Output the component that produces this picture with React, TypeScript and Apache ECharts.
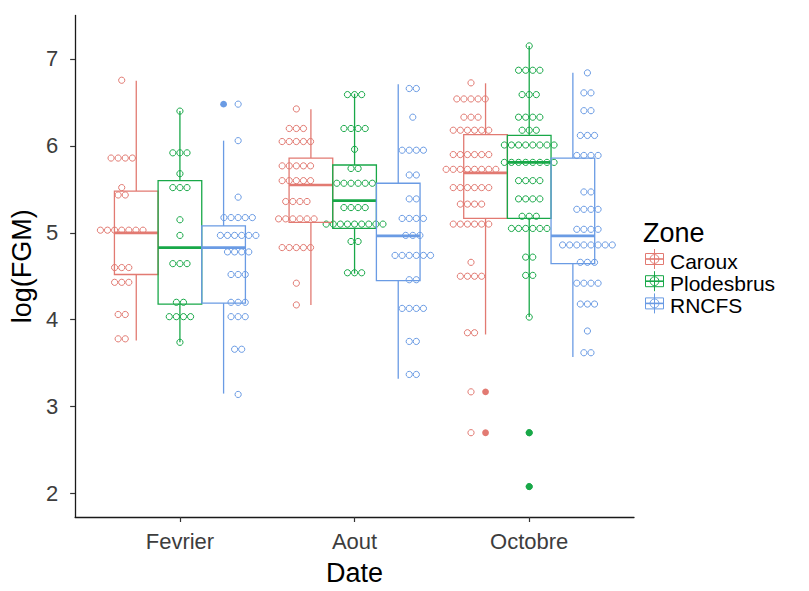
import React, { useEffect, useRef } from 'react';
import * as echarts from 'echarts';

// ---------- data ----------
const dates = ['Fevrier', 'Aout', 'Octobre'];
const zones = ['Caroux', 'Plodesbrus', 'RNCFS'];
const yTicks = [2, 3, 4, 5, 6, 7];

// box stats per date: [lower whisker, q1, median, q3, upper whisker]
const carouxBox = [
  [3.76, 4.52, 5.0, 5.48, 6.75],
  [4.17, 5.12, 5.55, 5.86, 6.42],
  [3.83, 5.165, 5.69, 6.13, 6.72],
];
const plodesbrusBox = [
  [3.74, 4.18, 4.83, 5.6, 6.4],
  [4.53, 5.05, 5.37, 5.78, 6.6],
  [4.03, 5.165, 5.81, 6.12, 7.15],
];
const rncfsBox = [
  [3.15, 4.19, 4.83, 5.08, 6.06],
  [3.32, 4.45, 4.965, 5.57, 6.71],
  [3.57, 4.645, 4.965, 5.86, 6.84],
];

// boxplot outliers per date
const carouxOutliers = [[], [], [3.17, 2.7]];
const plodesbrusOutliers = [[], [], [2.7, 2.08]];
const rncfsOutliers = [[6.48], [], []];

// dotplot bins per date: [bin centre, count]
const carouxDots = [
  [[6.755, 1], [5.86, 4], [5.52, 1], [5.435, 2], [5.03, 7], [4.6, 3], [4.43, 3], [4.06, 2], [3.78, 2]],
  [[6.425, 1], [6.2, 3], [6.05, 5], [5.77, 5], [5.6, 5], [5.36, 4], [5.16, 6], [4.83, 5], [4.42, 1], [4.17, 1]],
  [[6.725, 1], [6.54, 5], [6.33, 3], [6.18, 6], [5.9, 6], [5.73, 8], [5.52, 6], [5.33, 4], [5.1, 6], [4.66, 1], [4.5, 4], [3.85, 2], [3.17, 1], [2.7, 1]],
];
const plodesbrusDots = [
  [[6.4, 1], [5.92, 3], [5.68, 1], [5.52, 3], [5.15, 1], [4.97, 1], [4.645, 3], [4.2, 2], [4.035, 4], [3.74, 1]],
  [[6.59, 3], [6.2, 4], [5.96, 1], [5.74, 2], [5.57, 6], [5.29, 4], [5.1, 9], [4.9, 2], [4.54, 3]],
  [[7.15, 1], [6.87, 4], [6.59, 3], [6.33, 4], [6.18, 3], [6.01, 8], [5.81, 8], [5.6, 4], [5.39, 4], [5.19, 3], [5.05, 6], [4.72, 2], [4.51, 2], [4.03, 1], [2.7, 1], [2.08, 1]],
];
const rncfsDots = [
  [[6.48, 1], [6.06, 1], [5.41, 1], [5.175, 5], [4.97, 6], [4.78, 4], [4.52, 3], [4.2, 3], [4.035, 3], [3.66, 2], [3.14, 1]],
  [[6.66, 2], [6.33, 1], [5.95, 4], [5.665, 2], [5.39, 2], [5.165, 4], [4.97, 3], [4.74, 6], [4.46, 2], [4.13, 4], [3.75, 2], [3.37, 2]],
  [[6.84, 1], [6.61, 2], [6.405, 2], [6.12, 3], [5.89, 4], [5.47, 2], [5.27, 4], [5.04, 4], [4.86, 8], [4.66, 3], [4.42, 4], [4.18, 3], [3.87, 1], [3.62, 2]],
];

// ---------- style ----------
const zoneColors = ['#E27A72', '#18A848', '#6A9BE4'];
const boxOffsets = [-0.25, 0, 0.25];
const dotOffsets = [-1 / 3, 0, 1 / 3];
const BOX_WIDTH = 0.25;
const DOT_STEP = 7.1;
const DOT_R = 3.1;
const FONT = "'Liberation Sans', Arial, Helvetica, sans-serif";

const boxStats = [carouxBox, plodesbrusBox, rncfsBox];
const outlierSets = [carouxOutliers, plodesbrusOutliers, rncfsOutliers];
const dotSets = [carouxDots, plodesbrusDots, rncfsDots];

function buildOption() {
  const boxData: number[][] = [];
  const outlierData: number[][] = [];
  const dotData: number[][] = [];
  zones.forEach((_, z) => {
    dates.forEach((__, d) => {
      boxData.push([d + 1, z, ...boxStats[z][d]]);
      outlierSets[z][d].forEach((v) => outlierData.push([d + 1, z, v]));
      dotSets[z][d].forEach(([v, n]) => dotData.push([d + 1, z, v, n]));
    });
  });

  const dotSeries = {
    type: 'custom',
    data: dotData,
    encode: { x: 0, y: 2 },
    silent: true,
    renderItem: (params: any, api: any) => {
      const z = api.value(1);
      const n = api.value(3);
      const c = api.coord([api.value(0) + dotOffsets[z], api.value(2)]);
      const children: any[] = [];
      for (let i = 0; i < n; i++) {
        children.push({
          type: 'circle',
          shape: { cx: c[0] + (i - (n - 1) / 2) * DOT_STEP, cy: c[1], r: DOT_R },
          style: { fill: 'none', stroke: zoneColors[z], lineWidth: 1 },
        });
      }
      return { type: 'group', children };
    },
  };

  const boxSeries = {
    type: 'custom',
    data: boxData,
    encode: { x: 0, y: 4 },
    silent: true,
    renderItem: (params: any, api: any) => {
      const z = api.value(1);
      const x = api.value(0) + boxOffsets[z];
      const pLow = api.coord([x, api.value(2)]);
      const pQ1 = api.coord([x, api.value(3)]);
      const pMed = api.coord([x, api.value(4)]);
      const pQ3 = api.coord([x, api.value(5)]);
      const pHigh = api.coord([x, api.value(6)]);
      const hw = api.size([BOX_WIDTH, 0])[0] / 2;
      const cx = pMed[0];
      const col = zoneColors[z];
      const ls = { stroke: col, lineWidth: 1.3 };
      return {
        type: 'group',
        children: [
          { type: 'line', shape: { x1: cx, y1: pQ3[1], x2: cx, y2: pHigh[1] }, style: ls },
          { type: 'line', shape: { x1: cx, y1: pQ1[1], x2: cx, y2: pLow[1] }, style: ls },
          {
            type: 'rect',
            shape: { x: cx - hw, y: pQ3[1], width: 2 * hw, height: pQ1[1] - pQ3[1] },
            style: { fill: 'none', stroke: col, lineWidth: 1.3 },
          },
          {
            type: 'line',
            shape: { x1: cx - hw, y1: pMed[1], x2: cx + hw, y2: pMed[1] },
            style: { stroke: col, lineWidth: 2.7 },
          },
        ],
      };
    },
  };

  const outlierSeries = {
    type: 'custom',
    data: outlierData,
    encode: { x: 0, y: 2 },
    silent: true,
    renderItem: (params: any, api: any) => {
      const z = api.value(1);
      const c = api.coord([api.value(0) + boxOffsets[z], api.value(2)]);
      return {
        type: 'circle',
        shape: { cx: c[0], cy: c[1], r: 3.4 },
        style: { fill: zoneColors[z], stroke: 'none' },
      };
    },
  };

  // legend drawn as graphics
  const legendChildren: any[] = [
    {
      type: 'text',
      style: { text: 'Zone', x: 643, y: 233, fontSize: 27, fontFamily: FONT, fill: '#000', align: 'left', verticalAlign: 'middle' },
    },
  ];
  zones.forEach((name, i) => {
    const cy = 259 + i * 22.2;
    const cx = 654.5;
    const col = zoneColors[i];
    legendChildren.push(
      { type: 'line', shape: { x1: cx, y1: cy - 10, x2: cx, y2: cy + 10 }, style: { stroke: col, lineWidth: 1 } },
      { type: 'rect', shape: { x: cx - 9, y: cy - 5.5, width: 18, height: 11 }, style: { fill: 'none', stroke: col, lineWidth: 1 } },
      { type: 'line', shape: { x1: cx - 9, y1: cy, x2: cx + 9, y2: cy }, style: { stroke: col, lineWidth: 1.6 } },
      { type: 'circle', shape: { cx, cy, r: 4.4 }, style: { fill: 'none', stroke: col, lineWidth: 1 } },
      {
        type: 'text',
        style: { text: name, x: 670, y: cy + 2, fontSize: 21, fontFamily: FONT, fill: '#000', align: 'left', verticalAlign: 'middle' },
      },
    );
  });

  return {
    animation: false,
    backgroundColor: '#ffffff',
    textStyle: { fontFamily: FONT },
    grid: { left: 71, top: 15.5, width: 563, height: 511, containLabel: false },
    xAxis: {
      type: 'value',
      min: 0.4,
      max: 3.6,
      name: 'Date',
      nameLocation: 'middle',
      nameGap: 42,
      nameTextStyle: { fontSize: 27, color: '#000', fontFamily: FONT },
      axisLine: { show: true, onZero: false, lineStyle: { color: '#1a1a1a', width: 1.3 } },
      axisTick: { show: true, customValues: [1, 2, 3], length: 5, lineStyle: { color: '#333', width: 1.2 } },
      axisLabel: {
        customValues: [1, 2, 3],
        formatter: (v: number) => dates[Math.round(v) - 1] ?? '',
        fontSize: 22,
        color: '#3d3d3d',
        margin: 13,
        fontFamily: FONT,
      },
      splitLine: { show: false },
    },
    yAxis: {
      type: 'value',
      min: 1.73,
      max: 7.5,
      name: 'log(FGM)',
      nameLocation: 'middle',
      nameRotate: 90,
      nameGap: 36,
      nameTextStyle: { fontSize: 27, color: '#000', fontFamily: FONT },
      axisLine: { show: true, onZero: false, lineStyle: { color: '#1a1a1a', width: 1.3 } },
      axisTick: { show: true, customValues: yTicks, length: 5, lineStyle: { color: '#333', width: 1.2 } },
      axisLabel: {
        customValues: yTicks,
        fontSize: 22,
        color: '#3d3d3d',
        margin: 17,
        fontFamily: FONT,
      },
      splitLine: { show: false },
    },
    graphic: [{ type: 'group', children: legendChildren }],
    series: [dotSeries, boxSeries, outlierSeries],
  };
}

export default function App() {
  const ref = useRef<HTMLDivElement>(null);
  useEffect(() => {
    if (!ref.current) return;
    const chart = echarts.init(ref.current, null, { renderer: 'svg' });
    chart.setOption(buildOption() as any);
    return () => chart.dispose();
  }, []);
  return (
    <div
      ref={ref}
      style={{ position: 'absolute', left: 0, top: 0, width: 809, height: 591, background: '#fff' }}
    />
  );
}
